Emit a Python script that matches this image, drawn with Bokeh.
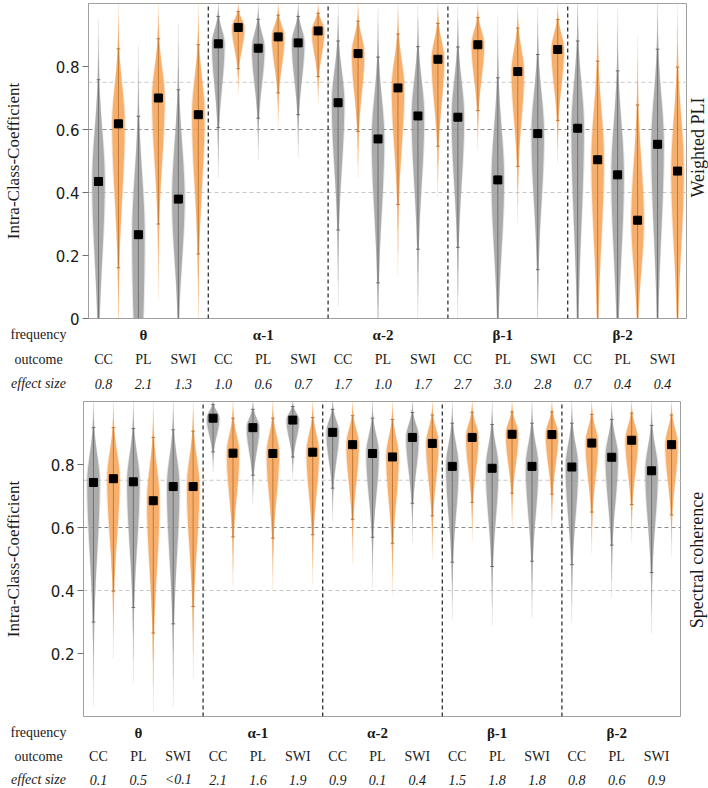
import numpy as np
from bokeh.plotting import figure
from bokeh.models import Range1d, FixedTicker
from bokeh.layouts import column, row
from bokeh.embed import file_html
from bokeh.resources import INLINE
from bokeh.core.properties import value

# ---------------- data ----------------
bands = ["θ", "α-1", "α-2", "β-1", "β-2"]
outcomes = ["CC", "PL", "SWI"]
row_names = ["frequency", "outcome", "effect size"]

# order: band -> outcome -> (gray, orange)
wpli_mean = [0.435, 0.618, 0.266, 0.700, 0.379, 0.647,
             0.872, 0.924, 0.858, 0.894, 0.875, 0.913,
             0.685, 0.841, 0.570, 0.732, 0.643, 0.823,
             0.639, 0.869, 0.440, 0.784, 0.587, 0.854,
             0.604, 0.504, 0.456, 0.312, 0.553, 0.468]
wpli_hi = [0.758, 0.856, 0.642, 0.888, 0.726, 0.869,
           0.959, 0.974, 0.950, 0.963, 0.959, 0.969,
           0.881, 0.944, 0.830, 0.903, 0.863, 0.937,
           0.862, 0.955, 0.764, 0.922, 0.838, 0.949,
           0.881, 0.817, 0.786, 0.678, 0.855, 0.798]
wpli_lo = [-0.05, 0.161, -0.50, 0.300, 0.000, 0.205,
           0.606, 0.793, 0.636, 0.716, 0.647, 0.768,
           0.281, 0.594, 0.113, 0.362, 0.220, 0.547,
           0.226, 0.660, 0.000, 0.483, 0.155, 0.629,
           0.000, 0.000, -0.05, 0.000, 0.000, 0.000]
wpli_effect = ["0.8", "2.1", "1.3", "1.0", "0.6", "0.7", "1.7", "1.0", "1.7",
               "2.7", "3.0", "2.8", "0.7", "0.4", "0.4"]

coh_mean = [0.743, 0.755, 0.745, 0.685, 0.730, 0.730,
            0.947, 0.836, 0.917, 0.835, 0.941, 0.839,
            0.902, 0.863, 0.835, 0.824, 0.886, 0.867,
            0.794, 0.886, 0.788, 0.896, 0.794, 0.895,
            0.792, 0.868, 0.823, 0.877, 0.780, 0.863]
coh_hi = [0.917, 0.917, 0.914, 0.886, 0.910, 0.906,
          0.990, 0.947, 0.975, 0.947, 0.984, 0.949,
          0.975, 0.955, 0.947, 0.943, 0.965, 0.957,
          0.931, 0.966, 0.927, 0.967, 0.931, 0.967,
          0.931, 0.959, 0.943, 0.963, 0.924, 0.957]
coh_lo = [0.300, 0.398, 0.346, 0.265, 0.294, 0.349,
          0.840, 0.570, 0.766, 0.566, 0.824, 0.577,
          0.725, 0.626, 0.569, 0.550, 0.677, 0.637,
          0.490, 0.680, 0.476, 0.709, 0.493, 0.706,
          0.482, 0.649, 0.544, 0.673, 0.457, 0.640]
coh_effect = ["0.1", "0.5", "<0.1", "2.1", "1.6", "1.9", "0.9", "0.1", "0.4",
              "1.5", "1.8", "1.8", "0.8", "0.6", "0.9"]

grid_vals = [0.4, 0.6, 0.75]
wpli_ticks = [0, 0.2, 0.4, 0.6, 0.8]
wpli_tick_labels = ["0", "0.2", "0.4", "0.6", "0.8"]
coh_ticks = [0.2, 0.4, 0.6, 0.8]
coh_tick_labels = ["0.2", "0.4", "0.6", "0.8"]

# ---------------- style / layout ----------------
SERIF = "Liberation Serif"
FILL = ["#a0a0a0", "#f5a55a"]
WHISK = ["#6a6a6a", "#c0742c"]
TAIL = ["#a8a8a8", "#f4ad6c"]
FRAME = "#a0a0a0"
TOTAL_W = 708
W = 0.31


def bare(width, height, x_range, y_range):
    f = figure(width=width, height=height, x_range=x_range, y_range=y_range,
               x_axis_location=None, y_axis_location=None, output_backend="svg",
               toolbar_location=None, min_border=0, outline_line_color=None,
               background_fill_color="white", border_fill_color="white")
    f.xgrid.visible = False
    f.ygrid.visible = False
    return f


def make_panel(mean, lo, hi, effect, ticks, tick_labels, right_label,
               bl, fw, fh, b_top, b_bottom, lab_standoff, right_x_px, right_y_px,
               strip_h, row_y_px):
    n = len(mean)
    main_h = b_top + fh + b_bottom
    p = figure(frame_width=fw, frame_height=fh,
               min_border_left=bl, min_border_right=0,
               min_border_top=b_top, min_border_bottom=b_bottom,
               x_range=Range1d(0, n), y_range=Range1d(0, 1),
               x_axis_location=None, output_backend="svg",
               toolbar_location=None, background_fill_color="white",
               border_fill_color="white")
    p.outline_line_color = FRAME
    p.outline_line_width = 1
    p.xgrid.visible = False
    p.ygrid.visible = False

    ax = p.yaxis[0]
    ax.ticker = FixedTicker(ticks=ticks)
    ax.major_label_overrides = {t: l for t, l in zip(ticks, tick_labels)}
    ax.axis_line_color = FRAME
    ax.major_tick_line_color = "#707070"
    ax.major_tick_out = 6
    ax.major_tick_in = 0
    ax.minor_tick_line_color = None
    ax.major_label_standoff = 3
    ax.major_label_text_font = "DejaVu Sans"
    ax.major_label_text_font_size = "15px"
    ax.major_label_text_color = "#1a1a1a"
    ax.axis_label = "Intra-Class-Coefficient"
    ax.axis_label_text_font = SERIF
    ax.axis_label_text_font_size = "17px"
    ax.axis_label_text_font_style = "normal"
    ax.axis_label_text_color = "#1a1a1a"
    ax.axis_label_standoff = lab_standoff

    # grid lines
    gcol = ["#8a8a8a" if abs(g - 0.6) < 1e-9 else "#c8c8c8" for g in grid_vals]
    p.segment(x0=[0] * len(grid_vals), y0=grid_vals, x1=[n] * len(grid_vals),
              y1=grid_vals, line_color=gcol, line_dash="4 3", line_width=1)

    xs_c = np.arange(n) + 0.5
    for grp in (0, 1):
        idx = [i for i in range(n) if i % 2 == grp]
        pxs, pys, hxs = [], [], []
        t_x0, t_y0, t_y1, t_a = [], [], [], []
        for i in idx:
            m, l, h = mean[i], lo[i], hi[i]
            su = max(h - m, 0.02) / 2.0
            sd = max(m - l, 0.02) / 2.0
            ys = np.linspace(m - 3.2 * sd, m + 3.2 * su, 90)
            z = np.where(ys >= m, (ys - m) / su, (m - ys) / sd)
            hw = W * np.exp(-0.5 * z * z)
            ys = np.clip(ys, 0, 1)
            pxs.append(list(np.concatenate([xs_c[i] - hw, (xs_c[i] + hw)[::-1]])))
            hxs.append(list(np.concatenate([xs_c[i] - 1.18 * hw, (xs_c[i] + 1.18 * hw)[::-1]])))
            pys.append(list(np.concatenate([ys, ys[::-1]])))
            # faint tails beyond the whiskers
            up_end = min(h + 0.6 * (h - m), 1.0)
            dn_end = max(l - 0.6 * (m - l), 0.0)
            for k, a in enumerate([0.35, 0.2, 0.08]):
                if h < 1.0:
                    t_x0.append(xs_c[i])
                    t_y0.append(h + (up_end - h) * k / 3)
                    t_y1.append(h + (up_end - h) * (k + 1) / 3)
                    t_a.append(a)
                if l > 0:
                    t_x0.append(xs_c[i])
                    t_y0.append(l - (l - dn_end) * k / 3)
                    t_y1.append(l - (l - dn_end) * (k + 1) / 3)
                    t_a.append(a)
        p.segment(x0=t_x0, y0=t_y0, x1=t_x0, y1=t_y1, line_color=TAIL[grp],
                  line_alpha=t_a, line_width=1.5)
        p.patches(xs=hxs, ys=pys, fill_color=FILL[grp], fill_alpha=0.25, line_color=None)
        p.patches(xs=pxs, ys=pys, fill_color=FILL[grp], fill_alpha=0.85, line_color=None)
        xw = [xs_c[i] for i in idx]
        p.segment(x0=xw, y0=[max(lo[i], 0) for i in idx], x1=xw, y1=[hi[i] for i in idx],
                  line_color=WHISK[grp], line_width=1, line_alpha=0.9)
        p.segment(x0=[x - 0.09 for x in xw], y0=[hi[i] for i in idx],
                  x1=[x + 0.09 for x in xw], y1=[hi[i] for i in idx],
                  line_color=WHISK[grp], line_width=1)
        lo_idx = [i for i in idx if lo[i] > 0]
        p.segment(x0=[xs_c[i] - 0.09 for i in lo_idx], y0=[lo[i] for i in lo_idx],
                  x1=[xs_c[i] + 0.09 for i in lo_idx], y1=[lo[i] for i in lo_idx],
                  line_color=WHISK[grp], line_width=1)

    # band separators
    seps = [6 * (b + 1) for b in range(len(bands) - 1)]
    p.segment(x0=seps, y0=[0] * len(seps), x1=seps, y1=[1] * len(seps),
              line_color="#303030", line_dash="4 3", line_width=1.3)

    p.scatter(x=list(xs_c), y=mean, marker="square", size=8, color="black")

    # right-hand panel label
    rw = TOTAL_W - bl - fw
    r = bare(rw, main_h, Range1d(0, rw), Range1d(main_h, 0))
    r.text(x=[right_x_px], y=[right_y_px], text=[right_label], angle=np.pi / 2,
           text_align="center", text_baseline="middle", text_font=value(SERIF),
           text_font_size="18px", text_color="#1a1a1a")

    # label strip below the frame
    pxu = fw / n
    s = bare(TOTAL_W, strip_h, Range1d(-bl / pxu, (TOTAL_W - bl) / pxu),
             Range1d(strip_h, 0))
    yf, yo, ye = row_y_px
    common = dict(text_align="center", text_baseline="middle",
                  text_font=value(SERIF), text_color="#1a1a1a")
    s.text(x=[6 * b + 3 for b in range(len(bands))], y=[yf] * len(bands), text=bands,
           text_font_size="15px", text_font_style="bold", **common)
    out_x = [2 * k + 1 for k in range(len(bands) * len(outcomes))]
    s.text(x=out_x, y=[yo] * len(out_x), text=outcomes * len(bands),
           text_font_size="14px", **common)
    s.text(x=out_x, y=[ye] * len(out_x), text=effect,
           text_font_size="14px", text_font_style="italic", **common)
    row_x = (38 - bl) / pxu
    s.text(x=[row_x, row_x], y=[yf, yo], text=row_names[:2],
           text_font_size="14px", **common)
    s.text(x=[row_x], y=[ye], text=row_names[2:],
           text_font_size="14px", text_font_style="italic", **common)
    return column(row(p, r, spacing=0), s, spacing=0)


panel1 = make_panel(wpli_mean, wpli_lo, wpli_hi, wpli_effect, wpli_ticks, wpli_tick_labels,
                    "Weighted PLI", bl=83, fw=599, fh=315, b_top=3, b_bottom=10,
                    lab_standoff=30, right_x_px=10, right_y_px=150,
                    strip_h=68, row_y_px=(6, 31, 55))
panel2 = make_panel(coh_mean, coh_lo, coh_hi, coh_effect, coh_ticks, coh_tick_labels,
                    "Spectral coherence", bl=78, fw=598, fh=315, b_top=5, b_bottom=2,
                    lab_standoff=25, right_x_px=15, right_y_px=162,
                    strip_h=68, row_y_px=(14, 38, 61))

layout = column(panel1, panel2, spacing=0)
open("out.html", "w").write(file_html(layout, INLINE))
